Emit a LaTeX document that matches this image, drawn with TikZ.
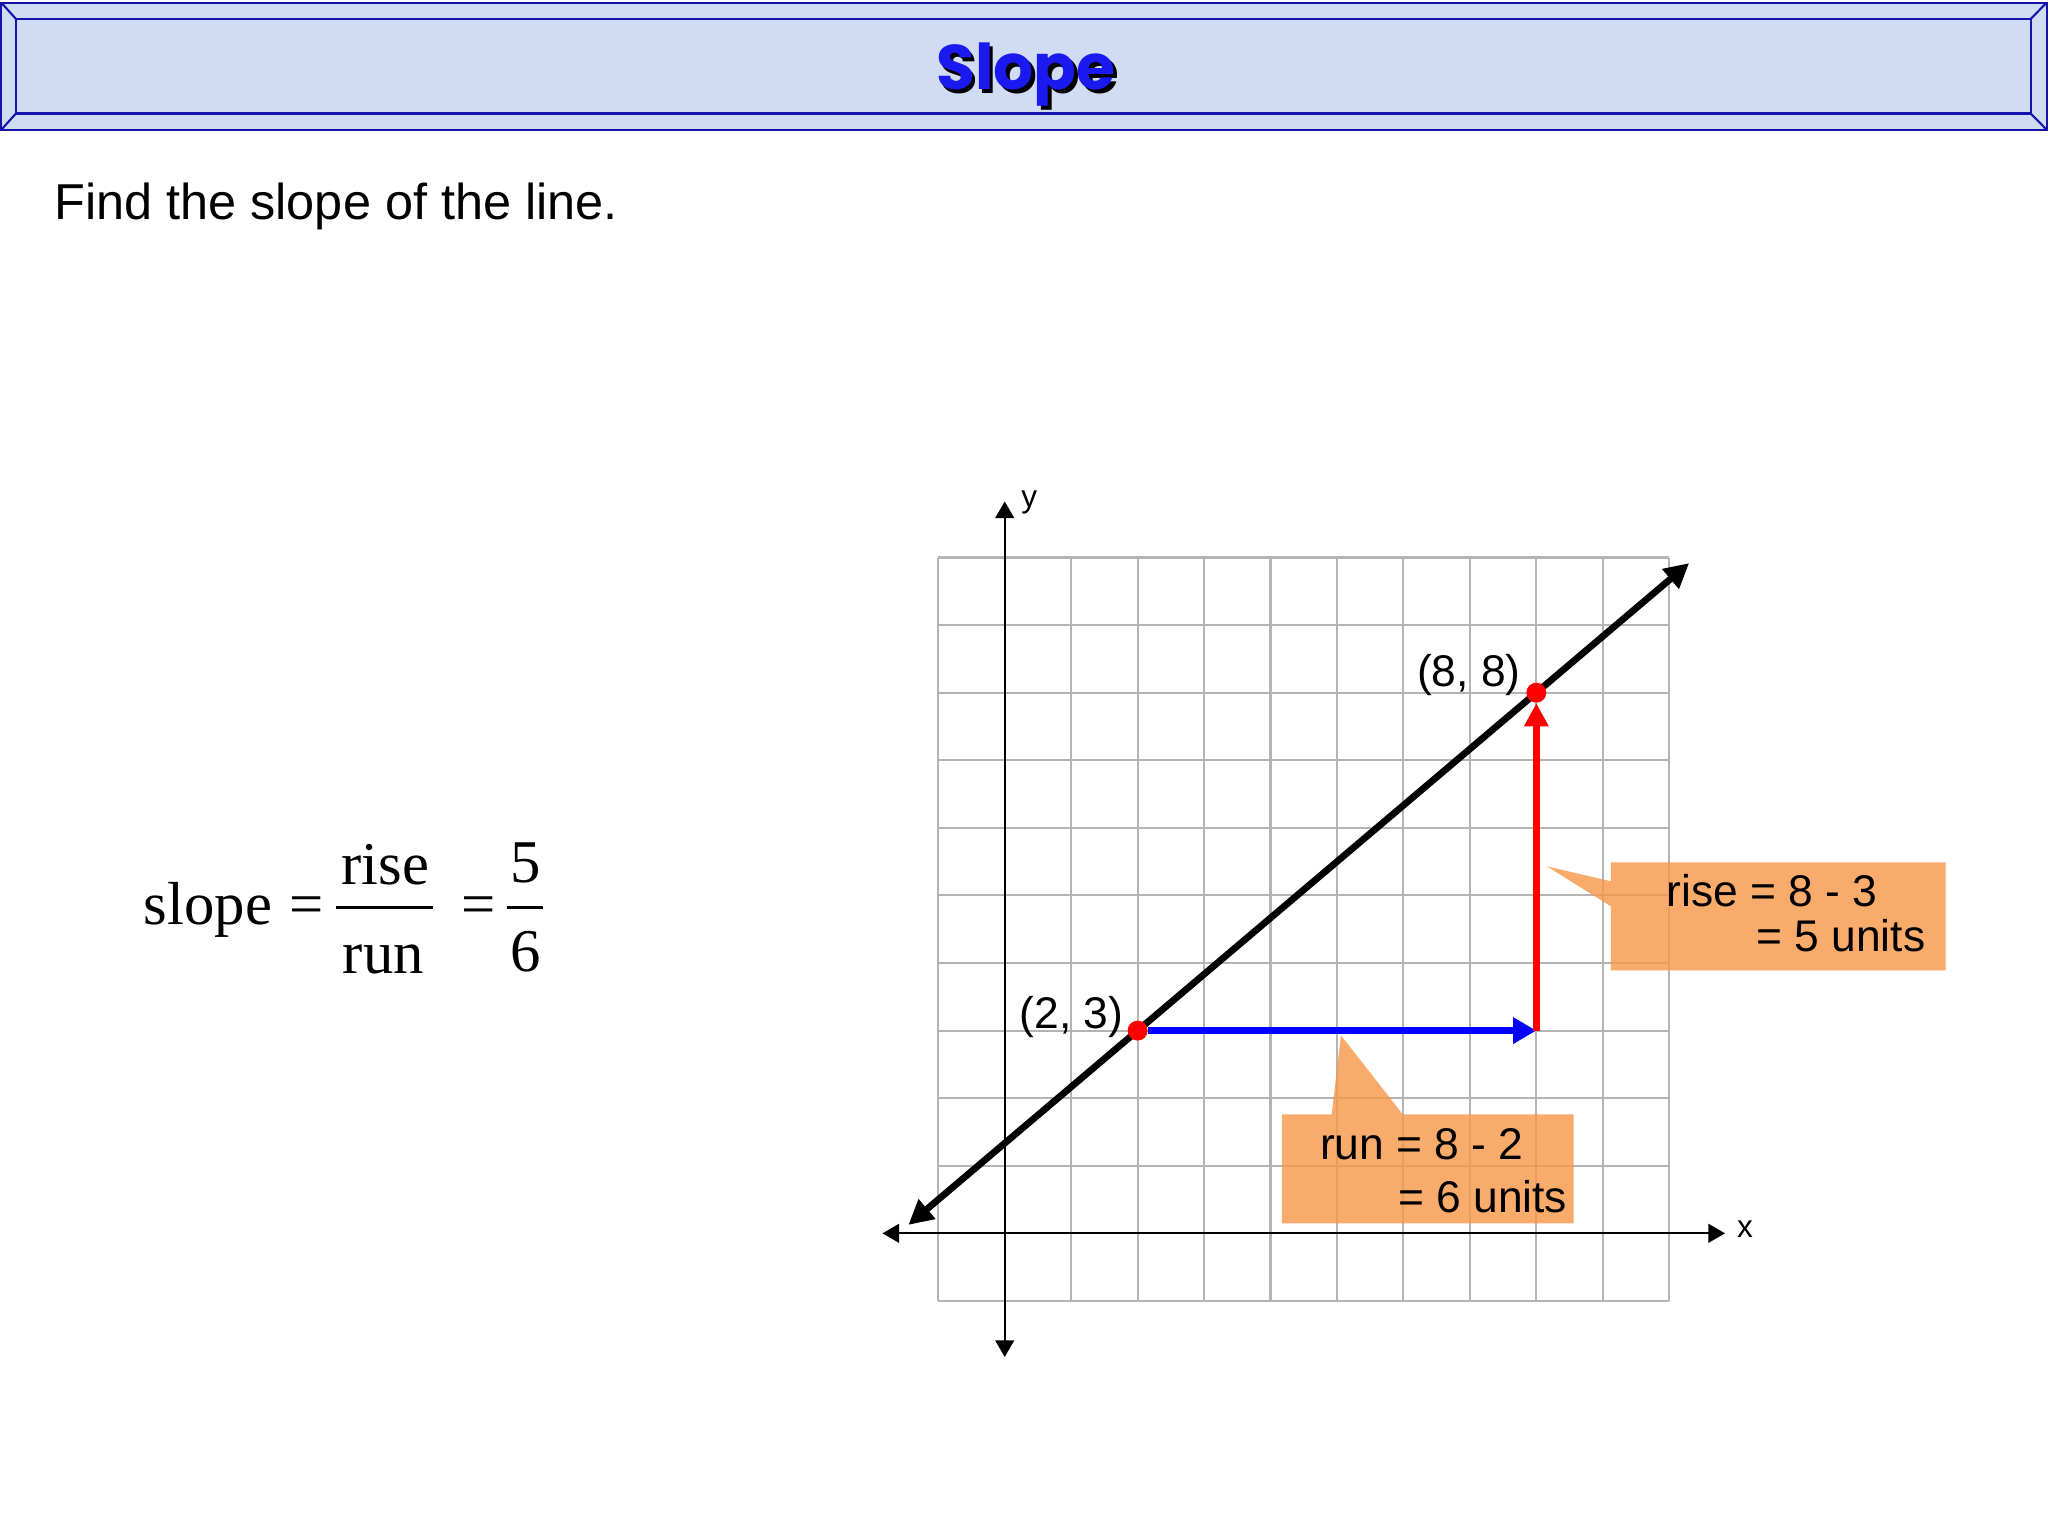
\documentclass[tikz,border=0pt]{standalone}
\usepackage{fontspec}
\setmainfont{Liberation Sans}
\newfontfamily\serifface{Liberation Serif}
\newfontfamily\titleface{Poppins}
\usepackage{xcolor}
\usetikzlibrary{arrows.meta}

\definecolor{bannerblue}{RGB}{20,20,170}
\definecolor{bannerfill}{RGB}{208,220,244}
\definecolor{titleblue}{RGB}{25,25,240}
\definecolor{gridgray}{RGB}{180,180,180}
\definecolor{calloutorange}{RGB}{247,150,70}

\begin{document}
\begin{tikzpicture}[
		x=1cm, y=1.017cm,
		frame/.style={line width=0.9pt, draw=bannerblue},
		gridline/.style={line width=0.9pt, color=gridgray},
		axis/.style={line width=1pt, color=black, {Triangle[length=0.25cm,width=0.28cm]}-{Triangle[length=0.25cm,width=0.28cm]}},
		main/.style={line width=2.9pt, color=black, {Triangle[length=0.37cm,width=0.37cm]}-{Triangle[length=0.37cm,width=0.37cm]}},
		runarrow/.style={line width=3pt, color=blue, -{Triangle[length=0.35cm,width=0.38cm]}},
		risearrow/.style={line width=3pt, color=red, -{Triangle[length=0.35cm,width=0.35cm]}},
		dot/.style={circle, fill=red, inner sep=0pt, minimum size=0.3cm},
		callout/.style={fill=calloutorange, fill opacity=0.8},
		txt/.style={inner sep=0pt, font=\fontsize{19pt}{19pt}\selectfont},
		formula/.style={inner sep=0pt, font=\serifface\fontsize{26pt}{26pt}\selectfont},
		fracbar/.style={line width=1.1pt},
		titletext/.style={inner sep=0pt, anchor=base, font=\titleface\bfseries\fontsize{27pt}{27pt}\selectfont}
		]

		\useasboundingbox (-15.12,-4.47) rectangle (15.70,18.25);

		% banner
		\fill[bannerfill] (-15.10,16.33) rectangle (15.68,18.21);
		\draw[frame] (-15.10,16.33) rectangle (15.68,18.21);
		\draw[frame] (-14.88,16.57) rectangle (15.44,17.97);
		\draw[frame] (-15.10,18.21) -- (-14.88,17.97) (15.68,18.21) -- (15.44,17.97) (-15.10,16.33) -- (-14.88,16.57) (15.68,16.33) -- (15.44,16.57);
		\node[titletext, text=black] at (0.37,16.87) {Slope};
		\node[titletext, text=titleblue] (title) at (0.32,16.92) {Slope};

		\node[txt, anchor=base west, font=\fontsize{21.6pt}{21.6pt}\selectfont] (task) at (-14.31,15.0) {Find the slope of the line.};

		% formula
		\node[formula, anchor=base west] (slopeword) at (-12.96,4.57) {slope};
		\node[formula, anchor=base] (eqa) at (-10.51,4.57) {=};
		\node[formula, anchor=base] (rise) at (-9.32,5.16) {rise};
		\node[formula, anchor=base] (run) at (-9.35,3.85) {run};
		\draw[fracbar] (-10.07,4.82) -- (-8.61,4.82);
		\node[formula, anchor=base] (eqb) at (-7.92,4.57) {=};
		\node[formula, anchor=base] (five) at (-7.21,5.19) {5};
		\node[formula, anchor=base] (six) at (-7.21,3.88) {6};
		\draw[fracbar] (-7.49,4.82) -- (-6.95,4.82);

		% grid and axes
		\foreach \i in {-1,...,10} {
			\draw[gridline] (\i,-1) -- (\i,10);
			\draw[gridline] (-1,\i) -- (10,\i);
		}
		\coordinate (xl) at (-1.84,0);
		\coordinate (xr) at (10.84,0);
		\coordinate (yb) at (0,-1.83);
		\coordinate (yt) at (0,10.83);
		\draw[axis] (xl) -- (xr);
		\draw[axis] (yb) -- (yt);
		\node[txt, font=\fontsize{13.5pt}{13.5pt}\selectfont] (xlabel) at (11.14,0.06) {x};
		\node[txt, font=\fontsize{13.5pt}{13.5pt}\selectfont] (ylabel) at (0.37,10.82) {y};

		% the line
		\coordinate (lineA) at (-1.45,0.125);
		\coordinate (lineB) at (10.3,9.917);
		\draw[main] (lineA) -- (lineB);

		\node[dot] (p1) at (2,3) {};
		\node[dot] (p2) at (8,8) {};
		\coordinate (corner) at (8,3);
		\draw[runarrow] (p1) -- (corner);
		\draw[risearrow] (corner) -- (p2);

		\node[txt, anchor=base east] (p1label) at (1.79,3.03) {(2, 3)};
		\node[txt, anchor=base east] (p2label) at (7.77,8.09) {(8, 8)};

		% callouts
		\path[callout] (9.12,5.49) -- (14.16,5.49) -- (14.16,3.89) -- (9.12,3.89) -- (9.12,4.84) -- (8.16,5.43) -- (9.12,5.21) -- cycle;
		\node[txt, anchor=base west] (risea) at (9.95,4.84) {rise = 8 - 3};
		\node[txt, anchor=base east] (riseb) at (13.86,4.17) {= 5 units};

		\path[callout] (4.17,1.76) -- (4.92,1.76) -- (5.06,2.93) -- (5.99,1.76) -- (8.56,1.76) -- (8.56,0.148) -- (4.17,0.148) -- cycle;
		\node[txt, anchor=base west] (runa) at (4.74,1.09) {run = 8 - 2};
		\node[txt, anchor=base east] (runb) at (8.47,0.31) {= 6 units};

	\end{tikzpicture}
\end{document}
